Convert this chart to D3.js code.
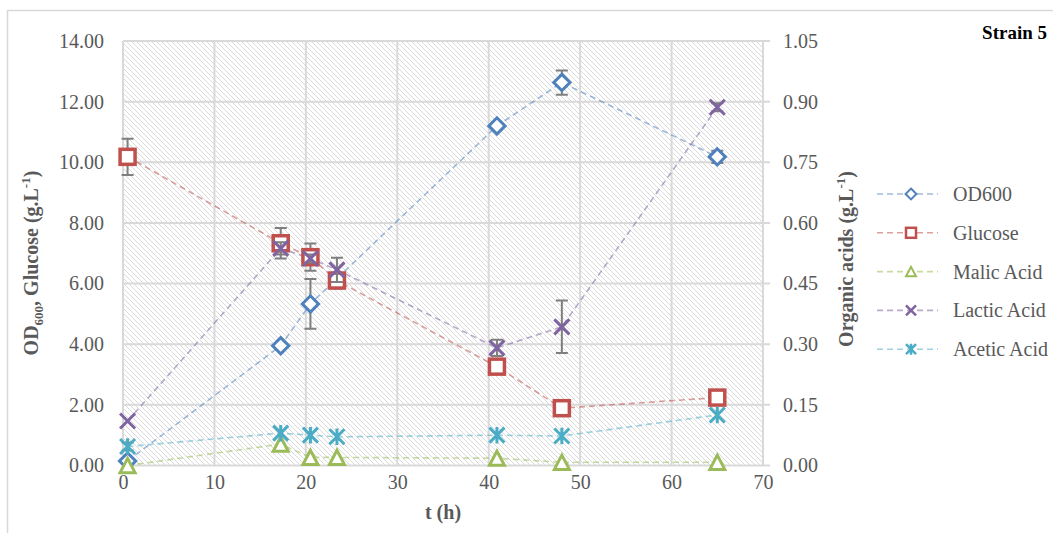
<!DOCTYPE html>
<html>
<head>
    <meta charset="utf-8">
    <script src="https://d3js.org/d3.v7.min.js"></script>
    <style>
        body { margin: 0; background: #fff; }
        text { font-family: "Liberation Serif", "Times New Roman", serif; }
    </style>
</head>
<body>
    <script>
        // sampling times (h)
        var times = [0.5, 17.25, 20.5, 23.4, 40.9, 48, 65];

        // left axis series (g/L, OD)
        var od600 = [0.15, 3.95, 5.33, null, 11.2, 12.63, 10.18];
        var od600Err = [0.1, 0, 0.82, 0, 0, 0.4, 0.2];
        var glucose = [10.18, 7.33, 6.87, 6.1, 3.26, 1.89, 2.24];
        var glucoseErr = [0.6, 0.5, 0.45, 0.26, 0, 0, 0];

        // right axis series (organic acids, g/L)
        var malic = [0.0, 0.053, 0.02, 0.02, 0.018, 0.008, 0.008];
        var malicErr = [0, 0, 0, 0, 0, 0, 0];
        var lactic = [0.11, 0.537, 0.512, 0.484, 0.291, 0.343, 0.886];
        var lacticErr = [0, 0.015, 0.01, 0.03, 0.02, 0.065, 0.01];
        var acetic = [0.047, 0.08, 0.075, 0.071, 0.075, 0.073, 0.125];
        var aceticErr = [0.01, 0, 0, 0, 0, 0, 0];

        var xTicks = [0, 10, 20, 30, 40, 50, 60, 70];
        var yLeftTicks = [0, 2, 4, 6, 8, 10, 12, 14];
        var yRightTicks = [0, 0.15, 0.30, 0.45, 0.60, 0.75, 0.90, 1.05];

        var series = [
            {name: "OD600", values: od600, err: od600Err, axis: "left", color: "#4f81bd", marker: "diamond"},
            {name: "Glucose", values: glucose, err: glucoseErr, axis: "left", color: "#c0504d", marker: "square"},
            {name: "Malic Acid", values: malic, err: malicErr, axis: "right", color: "#9bbb59", marker: "triangle"},
            {name: "Lactic Acid", values: lactic, err: lacticErr, axis: "right", color: "#8064a2", marker: "x"},
            {name: "Acetic Acid", values: acetic, err: aceticErr, axis: "right", color: "#4bacc6", marker: "star"}
        ];

        var W = 1053, H = 533;
        var pLeft = 123, pRight = 763, pTop = 41, pBottom = 465.5;

        var svg = d3.select("body").append("svg")
            .attr("width", W)
            .attr("height", H);

        // chart border
        svg.append("rect")
            .attr("x", 7.5).attr("y", 10.5)
            .attr("width", W + 20).attr("height", H + 20)
            .style("fill", "#fff")
            .style("stroke", "#d9d9d9")
            .style("stroke-width", 1.5);

        var defs = svg.append("defs");
        var pat = defs.append("pattern")
            .attr("id", "hatch")
            .attr("patternUnits", "userSpaceOnUse")
            .attr("width", 5).attr("height", 5);
        pat.append("rect").attr("width", 5).attr("height", 5).style("fill", "#fff");
        pat.append("path")
            .attr("d", "M-1,-1 L6,6 M-1,4 L1,6 M4,-1 L6,1")
            .style("stroke", "#dadada")
            .style("stroke-width", 1);

        var x = d3.scaleLinear().domain([0, 70]).range([pLeft, pRight]);
        var yL = d3.scaleLinear().domain([0, 14]).range([pBottom, pTop]);
        var yR = d3.scaleLinear().domain([0, 1.05]).range([pBottom, pTop]);

        svg.append("rect")
            .attr("x", pLeft).attr("y", pTop)
            .attr("width", pRight - pLeft).attr("height", pBottom - pTop)
            .style("fill", "url(#hatch)");

        // grid
        var grid = svg.append("g");
        grid.selectAll(".hg").data(yLeftTicks).enter().append("line")
            .attr("x1", pLeft).attr("x2", pRight + 7)
            .attr("y1", d => yL(d)).attr("y2", d => yL(d))
            .style("stroke", "#d9d9d9").style("stroke-width", 2);
        grid.selectAll(".vg").data(xTicks).enter().append("line")
            .attr("x1", d => x(d)).attr("x2", d => x(d))
            .attr("y1", pTop).attr("y2", pBottom)
            .style("stroke", "#d9d9d9").style("stroke-width", 2);

        // axes
        var xAxis = svg.append("g")
            .attr("transform", "translate(0," + pBottom + ")")
            .call(d3.axisBottom(x).tickValues(xTicks).tickSize(0).tickPadding(9));
        var yAxisL = svg.append("g")
            .attr("transform", "translate(" + pLeft + ",0)")
            .call(d3.axisLeft(yL).tickValues(yLeftTicks).tickSize(0).tickPadding(19).tickFormat(d3.format(".2f")));
        var yAxisR = svg.append("g")
            .attr("transform", "translate(" + pRight + ",0)")
            .call(d3.axisRight(yR).tickValues(yRightTicks).tickSize(0).tickPadding(20).tickFormat(d3.format(".2f")));
        [xAxis, yAxisL, yAxisR].forEach(function(a) {
            a.select(".domain").remove();
            a.selectAll("text")
                .style("font-family", "Liberation Serif")
                .style("font-size", "20px")
                .style("fill", "#595959");
        });

        // axis titles
        var lt = svg.append("text")
            .attr("transform", "translate(38,263) rotate(-90)")
            .attr("text-anchor", "middle")
            .style("font-size", "20px").style("font-weight", "bold").style("fill", "#595959");
        lt.append("tspan").text("OD");
        lt.append("tspan").attr("dy", 5).style("font-size", "13px").text("600");
        lt.append("tspan").attr("dy", -5).text(", Glucose (g.L");
        lt.append("tspan").attr("dy", -8).style("font-size", "13px").text("-1");
        lt.append("tspan").attr("dy", 8).text(")");

        var rt = svg.append("text")
            .attr("transform", "translate(853,259) rotate(-90)")
            .attr("text-anchor", "middle")
            .style("font-size", "20px").style("font-weight", "bold").style("fill", "#595959");
        rt.append("tspan").text("Organic acids (g.L");
        rt.append("tspan").attr("dy", -8).style("font-size", "13px").text("-1");
        rt.append("tspan").attr("dy", 8).text(")");

        svg.append("text")
            .attr("x", x(35)).attr("y", 519)
            .attr("text-anchor", "middle")
            .style("font-size", "20px").style("font-weight", "bold").style("fill", "#595959")
            .text("t (h)");

        svg.append("text")
            .attr("x", 1047).attr("y", 39)
            .attr("text-anchor", "end")
            .style("font-size", "19px").style("font-weight", "bold").style("fill", "#000")
            .text("Strain 5");

        function drawMarker(g, type, color, s) {
            if (type === "diamond") {
                g.append("path").attr("d", d3.symbol().type(d3.symbolDiamond2).size(s * s * 0.75)())
                    .style("fill", "#fff").style("stroke", color).style("stroke-width", s > 10 ? 3 : 2);
            } else if (type === "square") {
                g.append("rect").attr("x", -s / 2).attr("y", -s / 2).attr("width", s).attr("height", s)
                    .style("fill", "#fff").style("stroke", color).style("stroke-width", s > 10 ? 3.5 : 2.5);
            } else if (type === "triangle") {
                var h = s * 0.95;
                g.append("path").attr("d", "M0," + (-h / 2) + " L" + (s / 2) + "," + (h / 2) + " L" + (-s / 2) + "," + (h / 2) + " Z")
                    .style("fill", "#fff").style("stroke", color).style("stroke-width", s > 10 ? 3 : 2)
                    .style("stroke-linejoin", "miter");
            } else if (type === "x") {
                var a = s / 2;
                g.append("path").attr("d", "M" + (-a) + "," + (-a) + " L" + a + "," + a + " M" + (-a) + "," + a + " L" + a + "," + (-a))
                    .style("stroke", color).style("stroke-width", s > 10 ? 3 : 2.5);
            } else if (type === "star") {
                var b = s / 2;
                g.append("path").attr("d", "M" + (-b) + "," + (-b) + " L" + b + "," + b + " M" + (-b) + "," + b + " L" + b + "," + (-b) + " M0," + (-b * 1.1) + " L0," + (b * 1.1))
                    .style("stroke", color).style("stroke-width", s > 10 ? 3 : 2.5);
            }
        }

        var dash = "6,4";

        // lines
        series.forEach(function(s) {
            var y = s.axis === "left" ? yL : yR;
            var pts = times.map((t, i) => ({t: t, v: s.values[i], e: s.err[i]})).filter(d => d.v !== null);
            svg.append("path")
                .datum(pts)
                .attr("d", d3.line().x(d => x(d.t)).y(d => y(d.v)))
                .style("fill", "none")
                .style("stroke", s.color)
                .style("stroke-opacity", 0.55)
                .style("stroke-width", 1.6)
                .style("stroke-dasharray", dash);
            s.pts = pts;
        });

        // error bars and markers
        series.forEach(function(s) {
            var y = s.axis === "left" ? yL : yR;
            var g = svg.append("g");
            s.pts.filter(d => d.e > 0).forEach(function(d) {
                var cx = x(d.t);
                g.append("path")
                    .attr("d", "M" + cx + "," + y(d.v - d.e) + " L" + cx + "," + y(d.v + d.e) +
                        " M" + (cx - 6) + "," + y(d.v - d.e) + " L" + (cx + 6) + "," + y(d.v - d.e) +
                        " M" + (cx - 6) + "," + y(d.v + d.e) + " L" + (cx + 6) + "," + y(d.v + d.e))
                    .style("stroke", "#7f7f7f").style("stroke-width", 2).style("fill", "none");
            });
            s.pts.forEach(function(d) {
                var m = g.append("g").attr("transform", "translate(" + x(d.t) + "," + y(d.v) + ")");
                drawMarker(m, s.marker, s.color, 15);
            });
        });

        // legend
        var legend = svg.append("g");
        series.forEach(function(s, i) {
            var ly = 194 + i * 38.8;
            legend.append("line")
                .attr("x1", 877).attr("x2", 938).attr("y1", ly).attr("y2", ly)
                .style("stroke", s.color).style("stroke-opacity", 0.55)
                .style("stroke-width", 1.6).style("stroke-dasharray", dash);
            var m = legend.append("g").attr("transform", "translate(911," + ly + ")");
            drawMarker(m, s.marker, s.color, 10);
            legend.append("text")
                .attr("x", 953).attr("y", ly + 7)
                .style("font-size", "20px").style("fill", "#595959")
                .text(s.name);
        });
    </script>
</body>
</html>
